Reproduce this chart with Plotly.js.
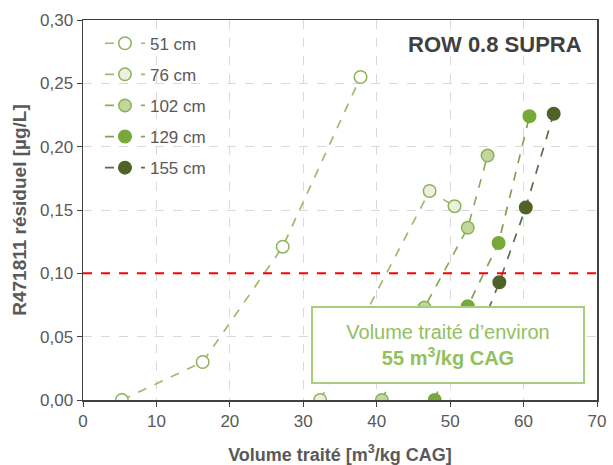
<!DOCTYPE html>
<html>
<head>
<meta charset="utf-8">
<script src="https://cdn.plot.ly/plotly-3.0.1.min.js"></script>
<style>html,body{margin:0;padding:0;background:#fff;}#chart{width:613px;height:465px;}</style>
</head>
<body>
<div id="chart"></div>
<script>
const seriesNames = ["51 cm", "76 cm", "102 cm", "129 cm", "155 cm"];
const x51 = [5.3, 16.3, 27.2, 37.8];
const y51 = [0.000, 0.030, 0.121, 0.255];
const x76 = [32.3, 47.2, 50.6];
const y76 = [0.000, 0.165, 0.153];
const x102 = [40.7, 46.5, 52.4, 55.1];
const y102 = [0.000, 0.073, 0.136, 0.193];
const x129 = [47.9, 52.4, 56.6, 60.8];
const y129 = [0.000, 0.074, 0.124, 0.224];
const x155 = [53.4, 56.7, 60.3, 64.1];
const y155 = [0.045, 0.093, 0.152, 0.226];
const limitValue = 0.10;
const xTicks = [0, 10, 20, 30, 40, 50, 60, 70];
const yTicks = [0, 0.05, 0.10, 0.15, 0.20, 0.25, 0.30];

const xs = [x51, x76, x102, x129, x155];
const ys = [y51, y76, y102, y129, y155];
const fills = ["#ffffff", "#ebf1de", "#c3d69b", "#77a83a", "#4f6228"];
const outlines = ["#8cb25a", "#8cb25a", "#8cb25a", "#77a83a", "#4f6228"];
const lineCols = ["#9fba6a", "#9fba6a", "#8faa5c", "#83a052", "#5f6b4a"];

const traces = seriesNames.map((n, i) => ({
  type: "scatter", mode: "lines+markers", name: n,
  x: xs[i], y: ys[i], legendgroup: "g" + i,
  line: {color: lineCols[i], width: 1.7, dash: "dash"},
  marker: {size: 12.5, color: fills[i], line: {color: outlines[i], width: 1.5}}
}));

const font = "Liberation Sans, Arial, sans-serif";
const layout = {
  width: 613, height: 465,
  margin: {l: 83, r: 16, t: 20, b: 65},
  paper_bgcolor: "#ffffff", plot_bgcolor: "#ffffff",
  separators: ", ",
  font: {family: font, size: 17, color: "#595959"},
  showlegend: true,
  legend: {x: 0.033, y: 0.985, xanchor: "left", yanchor: "top",
    bgcolor: "rgba(255,255,255,0)", font: {size: 17, color: "#595959"},
    tracegroupgap: 6, itemwidth: 40},
  xaxis: {range: [0, 70], tickvals: xTicks, ticktext: xTicks.map(String),
    showgrid: true, gridcolor: "#d9d9d9", griddash: "dash", gridwidth: 1,
    zeroline: false, showline: true, linecolor: "#404040", linewidth: 1.5, mirror: true,
    ticks: "outside", ticklen: 5, tickcolor: "#404040",
    title: {text: "<b>Volume traité [m<sup>3</sup>/kg CAG]</b>", font: {size: 18, color: "#595959"}, standoff: 18}},
  yaxis: {range: [0, 0.30], tickvals: yTicks, tickformat: ".2f",
    showgrid: true, gridcolor: "#d9d9d9", griddash: "dash", gridwidth: 1,
    zeroline: false, showline: true, linecolor: "#404040", linewidth: 1.5, mirror: true,
    ticks: "outside", ticklen: 5, tickcolor: "#404040",
    title: {text: "<b>R471811 résiduel [µg/L]</b>", font: {size: 19, color: "#595959"}, standoff: 8}},
  shapes: [{type: "line", xref: "paper", x0: 0, x1: 1, yref: "y", y0: limitValue, y1: limitValue,
    line: {color: "#ff0000", width: 2, dash: "dash"}}],
  annotations: [
    {xref: "paper", yref: "paper", x: 0.975, y: 0.975, xanchor: "right", yanchor: "top",
     text: "<b>ROW 0.8 SUPRA</b>", showarrow: false, font: {size: 22, color: "#404040"}},
    {xref: "paper", yref: "paper", x: 0.71, y: 0.145, xanchor: "center", yanchor: "middle",
     text: "Volume traité d’environ<br><b>55 m<sup>3</sup>/kg CAG</b>", showarrow: false,
     font: {size: 20, color: "#92c05e"}, bgcolor: "#ffffff", bordercolor: "#a5cf7a",
     borderwidth: 2, borderpad: 4, width: 262, height: 66}
  ]
};
Plotly.newPlot("chart", traces, layout, {displayModeBar: false, staticPlot: true});
</script>
</body>
</html>
